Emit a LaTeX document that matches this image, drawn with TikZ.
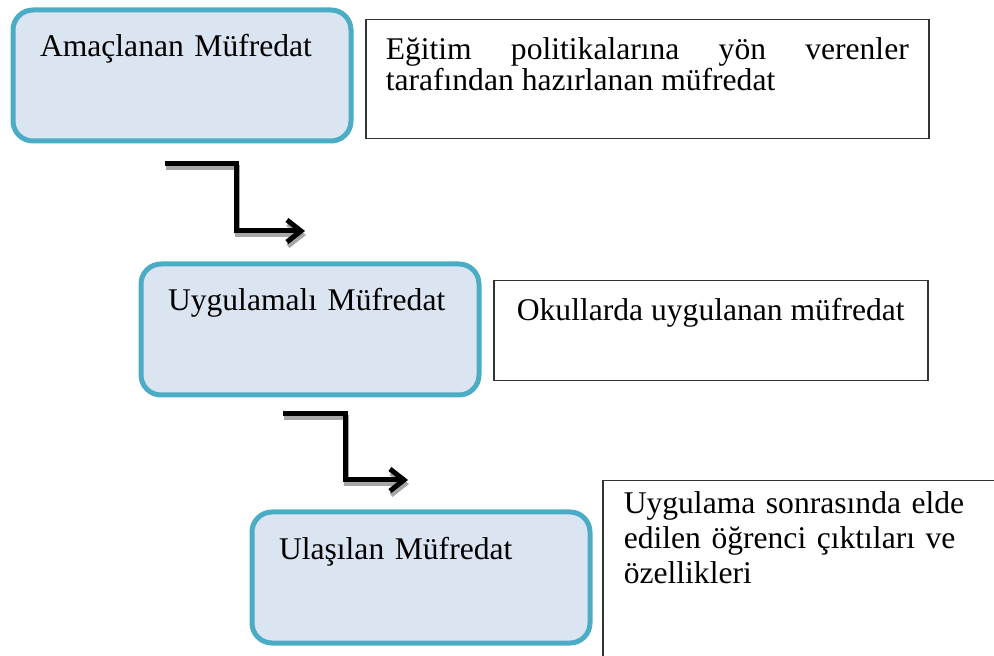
\documentclass[tikz,border=0pt]{standalone}
\usepackage{fontspec}
\setmainfont{Liberation Serif}
\usetikzlibrary{arrows.meta}

\definecolor{kenar}{RGB}{75,172,198}
\definecolor{dolgu}{RGB}{219,229,241}

\tikzset{
  katman/.style={draw=kenar,line width=2.5pt,fill=dolgu,rounded corners=10pt,
    anchor=north west,align=left,text width=142pt,inner xsep=13.5pt,inner ysep=0pt,
    text height=23.5pt,text depth=42pt},
  aciklama/.style={draw=black!80,line width=0.75pt,anchor=north west,inner ysep=0pt},
  oku/.style={draw=black,line width=2.5pt,-{Straight Barb[length=7pt,width=11pt]}},
  golge/.style={oku,draw=black!35,transform canvas={shift={(0.5pt,-2pt)}}}
}
\tikzstyle{every node}=[font=\fontsize{15.8}{17.5}\selectfont]

\begin{document}
\begin{tikzpicture}[x=0.5pt,y=-0.5pt]
    \clip (0,0) rectangle (994,656);
    % mufredat turleri
    \node[katman] (amac) at (10.5,7.5) {Amaçlanan Müfredat};
    \node[aciklama,text width=261.5pt,inner xsep=10pt,align=justify,
      text height=20pt,text depth=39.5pt,font=\fontsize{15.8}{14.3}\selectfont]
      (amacA) at (365,19) {Eğitim politikalarına yön verenler\linebreak tarafından hazırlanan müfredat};
    \node[katman] (uygu) at (138.5,261.5) {Uygulamalı Müfredat};
    \node[aciklama,minimum width=217pt,text height=20pt,text depth=30pt]
      (uyguA) at (493,280) {Okullarda uygulanan müfredat};
    \node[katman] (ulas) at (249.5,509.5) {Ulaşılan Müfredat};
    \node[aciklama,text width=190pt,inner xsep=10.5pt,align=left,
      text height=16.5pt,text depth=90pt] (ulasA) at (602,480)
      {Uygulama sonrasında elde\\ edilen öğrenci çıktıları ve\\ özellikleri};
    % oklar
    \coordinate (ok1a) at (165,164);
    \coordinate (ok1b) at (236,200);
    \coordinate (ok1c) at (305,231);
    \draw[golge] (ok1a) -| (ok1b) |- (ok1c);
    \draw[oku] (ok1a) -| (ok1b) |- (ok1c);
    \coordinate (ok2a) at (283,414);
    \coordinate (ok2b) at (345,450);
    \coordinate (ok2c) at (408,480);
    \draw[golge] (ok2a) -| (ok2b) |- (ok2c);
    \draw[oku] (ok2a) -| (ok2b) |- (ok2c);
\end{tikzpicture}
\end{document}
